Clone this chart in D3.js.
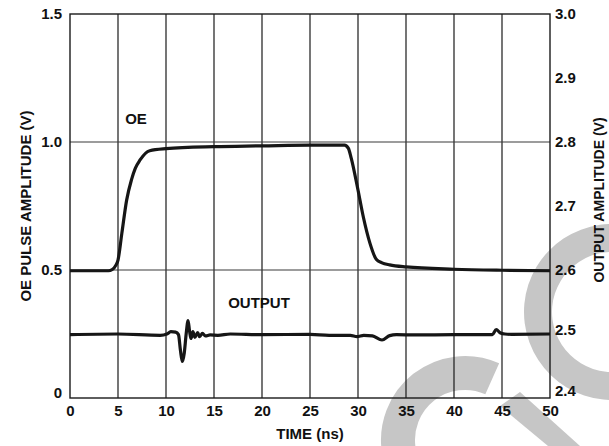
<!DOCTYPE html>
<html><head><meta charset="utf-8">
<script src="https://cdn.jsdelivr.net/npm/d3@7"></script>
<style>
html,body{margin:0;padding:0;background:#fff;}
svg{display:block;font-family:"Liberation Sans",Arial,sans-serif;font-weight:bold;}
</style></head>
<body><svg id="chart" width="609" height="446"></svg>
<script>
// ---- data ----
const xTicks = [0,5,10,15,20,25,30,35,40,45,50];
const leftTicks = [0,0.5,1.0,1.5];
const leftTickLabels = ["0","0.5","1.0","1.5"];
const rightTicks = [2.4,2.5,2.6,2.7,2.8,2.9,3.0];
const rightTickLabels = ["2.4","2.5","2.6","2.7","2.8","2.9","3.0"];
const gridY = [0.5,1.0];

const oeTime  = [0,4.0,4.4,4.8,5.0,5.4,5.9,6.4,6.8,7.3,8.3,10,15,20,25,28.6,29.0,29.3,30.0,30.55,31.25,31.9,32.5,33.3,35,40,45,50];
const oeValue = [0.497,0.497,0.502,0.52,0.539,0.643,0.773,0.852,0.897,0.93,0.966,0.974,0.982,0.985,0.988,0.988,0.975,0.936,0.8125,0.708,0.604,0.542,0.528,0.52,0.512,0.503,0.499,0.497];

const outTime  = [0,5,9.4,10.1,10.5,11.0,11.3,11.5,11.7,11.9,12.1,12.3,12.45,12.6,12.8,13.0,13.3,13.5,13.8,14.1,14.6,15.4,16.7,20,25,27,29.2,29.9,30.6,31.5,32.5,33.3,34,36,40,44,44.4,44.8,45.3,46,50];
const outValue = [2.499,2.5,2.498,2.5,2.5036,2.503,2.499,2.475,2.457,2.47,2.5,2.521,2.505,2.493,2.5036,2.4948,2.502,2.4958,2.501,2.497,2.4985,2.498,2.5,2.499,2.4995,2.498,2.498,2.496,2.498,2.497,2.4906,2.4975,2.499,2.4985,2.499,2.499,2.507,2.502,2.5,2.4995,2.5];

const xTitle = "TIME (ns)";
const leftTitle = "OE PULSE AMPLITUDE (V)";
const rightTitle = "OUTPUT AMPLITUDE (V)";

// ---- layout ----
const svg = d3.select("#chart");
const L = 70, R = 550, T = 14, B = 398;
const x = d3.scaleLinear().domain([0,50]).range([L,R]);
const yL = d3.scaleLinear().domain([0,1.5]).range([B,T]);
const yR = d3.scaleLinear().domain([2.4,3.0]).range([B,T]);

// watermark (decorative, behind)
const wm = svg.append("g").attr("fill","#c6c6c6");
wm.append("path").attr("transform","translate(612,312)")
  .attr("d", d3.arc().innerRadius(60).outerRadius(88).startAngle(-200*Math.PI/180).endAngle(5*Math.PI/180)());
wm.append("path").attr("transform","translate(465,440)")
  .attr("d", d3.arc().innerRadius(50).outerRadius(84).startAngle(-100*Math.PI/180).endAngle(24*Math.PI/180)());
wm.append("path").attr("d","M500,406 L520,392 L580,446 L548,446 Z");

// gridlines
const grid = svg.append("g").attr("stroke","#1a1a1a").attr("stroke-width",1.2);
grid.selectAll("line.v").data(xTicks.filter(d=>d>0&&d<50)).join("line")
  .attr("x1",d=>x(d)).attr("x2",d=>x(d)).attr("y1",T).attr("y2",B);
grid.selectAll("line.h").data(gridY).join("line").attr("stroke","#3a3a3a")
  .attr("x1",L).attr("x2",R).attr("y1",d=>yL(d)).attr("y2",d=>yL(d));
svg.append("rect").attr("x",L).attr("y",T).attr("width",R-L).attr("height",B-T)
  .attr("fill","none").attr("stroke","#1a1a1a").attr("stroke-width",1.4);

// axes
const fs = "15px";
const gx = svg.append("g").attr("transform",`translate(0,${B})`)
  .call(d3.axisBottom(x).tickValues(xTicks).tickSize(0).tickPadding(7).tickFormat(d3.format("d")));
const gl = svg.append("g").attr("transform",`translate(${L},0)`)
  .call(d3.axisLeft(yL).tickValues(leftTicks).tickSize(0).tickPadding(8).tickFormat((d,i)=>leftTickLabels[i]));
const gr = svg.append("g").attr("transform",`translate(${R},0)`)
  .call(d3.axisRight(yR).tickValues(rightTicks).tickSize(0).tickPadding(5).tickFormat((d,i)=>rightTickLabels[i]));
[gx,gl,gr].forEach(g=>{
  g.select(".domain").remove();
  g.selectAll("text").attr("font-size",fs).attr("font-weight","bold")
   .attr("font-family","Liberation Sans, Arial, sans-serif").attr("fill","#111");
});
gl.selectAll(".tick").filter(d=>d===0).select("text").attr("y",-5);
gr.selectAll(".tick").filter(d=>d===2.4).select("text").attr("y",-7);
gr.selectAll(".tick").filter(d=>d===2.5).select("text").attr("y",-4);

// titles
svg.append("text").attr("x",(L+R)/2).attr("y",439).attr("text-anchor","middle")
  .attr("font-size","15px").attr("fill","#111").text(xTitle);
svg.append("text").attr("transform",`translate(31,${(T+B)/2}) rotate(-90)`).attr("text-anchor","middle")
  .attr("font-size","15px").attr("fill","#111").text(leftTitle);
svg.append("text").attr("transform",`translate(604,200) rotate(-90)`).attr("text-anchor","middle")
  .attr("font-size","14px").attr("fill","#111").text(rightTitle);

// traces
const oeLine = d3.line().x((d,i)=>x(oeTime[i])).y(d=>yL(d)).curve(d3.curveMonotoneX);
const outLine = d3.line().x((d,i)=>x(outTime[i])).y(d=>yR(d)).curve(d3.curveMonotoneX);
svg.append("path").attr("d",oeLine(oeValue)).attr("fill","none").attr("stroke","#161616").attr("stroke-width",3.2).attr("stroke-linejoin","round");
svg.append("path").attr("d",outLine(outValue)).attr("fill","none").attr("stroke","#161616").attr("stroke-width",3.2).attr("stroke-linejoin","round");

// labels
svg.append("text").attr("x",136).attr("y",124).attr("text-anchor","middle").attr("font-size","15px").attr("fill","#111").text("OE");
svg.append("text").attr("x",259).attr("y",308).attr("text-anchor","middle").attr("font-size","15px").attr("fill","#111").text("OUTPUT");
</script></body></html>
